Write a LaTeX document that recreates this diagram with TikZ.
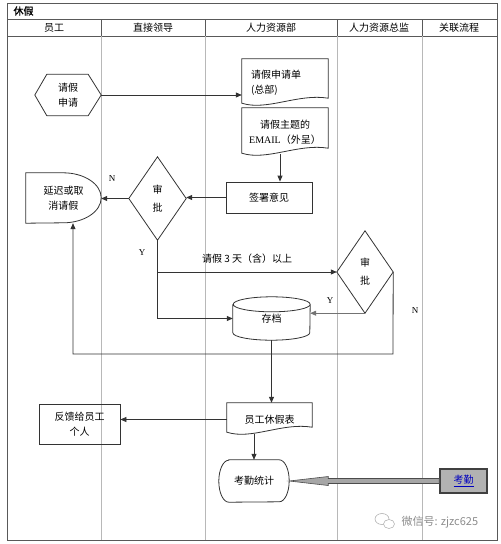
\documentclass[tikz,border=0pt]{standalone}
\usepackage{fontspec}
\setmainfont{Liberation Serif}
\newfontfamily\cjk{Noto Sans CJK SC}
\newfontfamily\cjkbold[FakeBold=1.5]{Noto Sans CJK SC}
\usetikzlibrary{arrows.meta,positioning,calc}

\newcommand{\zh}{\cjk\fontsize{10}{15}\selectfont}
% document outline with wavy bottom
\newcommand{\docframe}[1]{\draw[flow] (#1.north west) -- ([yshift=4pt]#1.south west) .. controls ([xshift=25pt,yshift=-4pt]#1.south west) and ([xshift=-30pt,yshift=14pt]#1.south east) .. ([yshift=9pt]#1.south east) -- (#1.north east) -- cycle;}

\tikzset{
  flow/.style={draw=black!80, line width=0.8pt},
  faint/.style={draw=black!55, line width=0.5pt},
  lane/.style={draw=black!28, line width=0.6pt},
  frame/.style={draw=black!65, line width=1pt},
  shp/.style={align=center, font=\zh, inner sep=0pt},
  box/.style={shp, draw=black!80, line width=0.8pt},
  lbl/.style={font=\zh},
  yn/.style={font=\fontsize{9}{10}\selectfont},
}

\begin{document}
\begin{tikzpicture}[x=1pt, y=-1pt, >={Triangle[length=6pt,width=5pt]}]
\useasboundingbox (0,0) rectangle (501,544);

% Lanes
\draw[frame] (7,3) rectangle (497,540);
\draw[frame] (7,19) -- (497,19);
\draw[frame] (7,36) -- (497,36);
\foreach \x in {101,205,337,422} {
  \draw[frame, line width=0.8pt] (\x,19) -- (\x,36);
  \draw[lane] (\x,36) -- (\x,540);
}
\node[font=\cjkbold\fontsize{10}{12}\selectfont, anchor=west] (title) at (10,11) {休假};
\node[lbl] (h_staff) at (54,28) {员工};
\node[lbl] (h_lead) at (153,28) {直接领导};
\node[lbl] (h_hr) at (271,28) {人力资源部};
\node[lbl] (h_dir) at (379,28) {人力资源总监};
\node[lbl] (h_rel) at (459,28) {关联流程};

% Nodes
\node[shp, minimum width=66pt, minimum height=41pt] (apply) at (68,95) {请假\\申请};
\draw[flow] (apply.west) -- ([xshift=12pt]apply.north west) -- ([xshift=-13pt]apply.north east) -- (apply.east) -- ([xshift=-13pt]apply.south east) -- ([xshift=12pt]apply.south west) -- cycle;

\node[shp, minimum width=86pt, minimum height=48pt, text width=68pt, align=left] (form) at (285,83) {请假申请单\\(总部)};
\docframe{form}
\node[shp, minimum width=86pt, minimum height=49pt] (mail) at (285,132.5) {请假主题的\\{\rmfamily EMAIL}（外呈）};
\docframe{mail}
\node[box, minimum width=86pt, minimum height=31pt] (sign) at (269,197.5) {签署意见};

\node[shp, minimum width=57pt, minimum height=83pt] (chk1) at (157.5,198.5) {审\\[3pt]批};
\draw[flow] (chk1.north) -- (chk1.east) -- (chk1.south) -- (chk1.west) -- cycle;

\node[shp, minimum width=75pt, minimum height=50pt] (back) at (63.5,198) {延迟或取\\消请假};
\draw[flow] (back.south west) -- (back.north west) -- ([xshift=-38pt]back.north east) arc[start angle=90, end angle=-90, x radius=38pt, y radius=25pt] -- cycle;

\node[shp, minimum width=56pt, minimum height=82pt] (chk2) at (365,272) {审\\[3pt]批};
\draw[flow] (chk2.north) -- (chk2.east) -- (chk2.south) -- (chk2.west) -- cycle;

\node[shp, minimum width=77pt, minimum height=43pt] (arch) at (271.5,318.5) {\raisebox{-3pt}{存档}};
\draw[flow] ([yshift=-7.5pt]arch.north west) -- ([yshift=7.5pt]arch.south west) arc[start angle=180, end angle=360, x radius=38.5pt, y radius=7.5pt] -- ([yshift=-7.5pt]arch.north east) arc[start angle=0, end angle=180, x radius=38.5pt, y radius=7.5pt] arc[start angle=180, end angle=360, x radius=38.5pt, y radius=7.5pt];

\node[shp, minimum width=85pt, minimum height=33pt] (leave) at (269.5,419.5) {员工休假表};
\docframe{leave}
\node[box, minimum width=81pt, minimum height=40pt] (fb) at (79.5,424) {反馈给员工\\个人};
\node[shp, minimum width=70pt, minimum height=42pt] (stat) at (254,481) {考勤统计};
\draw[flow] ([xshift=10pt]stat.north west) -- ([xshift=-10pt]stat.north east) arc[start angle=90, end angle=-90, x radius=10pt, y radius=21pt] -- ([xshift=10pt]stat.south west) arc[start angle=270, end angle=90, x radius=10pt, y radius=21pt] -- cycle;
\node[shp, draw=black!75, line width=1.5pt, fill=black!30, minimum width=47pt, minimum height=24pt] (kq) at (463.5,481) {\color{blue!75!black}\underline{考勤}};

% Arrows
\draw[flow,->] (apply.east) -- (apply.east -| form.west);
\draw[flow,->] ([xshift=-5pt,yshift=3pt]mail.south) -- ([xshift=-5pt]mail.south |- sign.north);
\draw[flow,->] (sign.west) -- (sign.west -| chk1.east);
\draw[flow,->] (chk1.west) -- (chk1.west -| back.east);
\node[yn] (n1) at (112,179) {N};
\draw[flow,->] (chk1.south) |- (chk2.west) node[lbl, pos=0.75, above=5pt] {请假 3 天（含）以上};
\draw[flow,->] (chk1.south) |- (arch.west);
\node[yn] (y1) at (142,253) {Y};
\draw[faint,->] (chk2.south) -- (chk2.south -| arch.east);
\node[yn] (y2) at (330,301) {Y};
\coordinate (nturn) at (393,354);
\draw[flow,->] (chk2.east) -- (nturn) -| ([xshift=9.5pt]back.south);
\node[yn] (n2) at (415,311) {N};
\draw[flow,->] (arch.south) -- (arch.south |- leave.north);
\draw[flow,->] (leave.west) -- (leave.west -| fb.east);
\draw[flow,->] ([yshift=2pt]leave.south -| stat.north) -- (stat.north);
\draw[draw=black!70, fill=black!35, line width=0.6pt] (stat.east) -- ([xshift=39pt,yshift=4.5pt]stat.east) -- ([xshift=39pt,yshift=2.5pt]stat.east) -- ([yshift=2.5pt]kq.west) -- ([yshift=-2.5pt]kq.west) -- ([xshift=39pt,yshift=-2.5pt]stat.east) -- ([xshift=39pt,yshift=-4.5pt]stat.east) -- cycle;

% Watermark
\draw[black!30, line width=0.6pt] (382,519) ellipse [x radius=7pt, y radius=5.5pt];
\draw[black!30, line width=0.6pt, fill=white] (389,524) ellipse [x radius=5.5pt, y radius=4.5pt];
\node[font=\cjk\fontsize{11}{11}\selectfont, text=black!45, anchor=west] (wm) at (398,522) {微信号: zjzc625};
\end{tikzpicture}
\end{document}
